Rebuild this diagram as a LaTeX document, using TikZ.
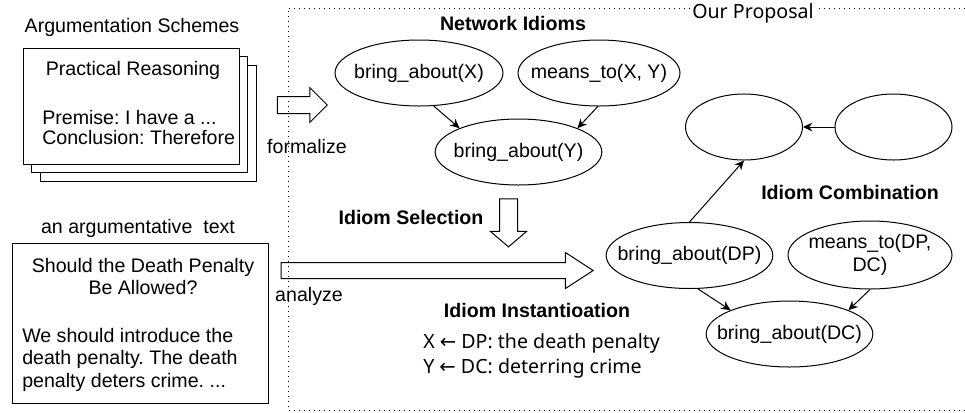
\documentclass[tikz,border=0pt]{standalone}
\usepackage{fontspec}
\setmainfont{Liberation Sans}
\newfontfamily\notosans{Noto Sans}
\newfontfamily\symfont{DejaVu Sans}
\usetikzlibrary{shapes.geometric,shapes.arrows,arrows.meta,positioning}
\frenchspacing

\begin{document}
\begin{tikzpicture}[
  x=0.75pt, y=-0.75pt,
  every node/.style={font=\fontsize{14.7}{17.25}\selectfont, inner sep=0pt},
  idiom/.style={draw, ellipse, line width=0.75pt, inner xsep=-20pt, minimum width=125pt, minimum height=49.5pt, align=center},
  empty idiom/.style={idiom, minimum width=87.75pt},
  title/.style={font=\fontsize{14.7}{17.25}\selectfont\bfseries},
  doc/.style={draw, fill=white, line width=0.75pt},
  blockarrow/.style={draw, single arrow, line width=0.75pt, text height=0pt, text depth=0pt,
    inner xsep=0pt, inner ysep=6pt, single arrow head extend=6.75pt, single arrow tip angle=90},
  frame/.style={line width=0.75pt, dash pattern=on 0.75pt off 3pt},
  arrow/.style={-{Stealth[length=7pt,width=6.5pt]}, line width=0.75pt}
]
  \useasboundingbox (0,0) rectangle (965,412);

  % dotted frame round the proposal
  \draw[frame] (965,8) -- (288,8) -- (288,410) -- (965,410);
  \node[fill=white, inner xsep=2pt, font=\notosans\fontsize{14.7}{17.25}\selectfont] (proposal) at (753,13) {Our Proposal};

  % argumentation schemes (stacked)
  \node (schemes) at (132,27) {Argumentation Schemes};
  \node[doc, minimum width=162pt, minimum height=87pt] (scheme3) at (148,123) {};
  \node[doc, minimum width=162pt, minimum height=87pt] (scheme2) at (139.5,114.5) {};
  \node[doc, minimum width=162pt, minimum height=87pt] (scheme) at (131,106) {};
  \node (prtitle) at (133,70) {Practical Reasoning};
  \node[align=left, anchor=west, font=\fontsize{14.7}{15}\selectfont] (prbody) at (42,127) {Premise: I have a ...\\Conclusion: Therefore};

  % the text to analyze
  \node (argtext) at (138,228) {an argumentative\ \ text};
  \node[doc, minimum width=192pt, minimum height=120pt] (essay) at (140,323) {};
  \node[align=center, font=\fontsize{14.7}{16.5}\selectfont] (question) at (143,276) {Should the Death Penalty\\Be Allowed?};
  \node[align=left, anchor=west, font=\fontsize{14.7}{16.9}\selectfont] (essaybody) at (22,359.5)
    {We should introduce the\\death penalty. The death\\penalty deters crime. ...};

  % block arrows
  \node[blockarrow, minimum height=37.5pt] (toformal) at (298,105) {};
  \node[blockarrow, minimum height=234pt, inner ysep=5.625pt, single arrow head extend=7.5pt,
    single arrow tip angle=66] (toanalyze) at (431,270.5) {};
  \node[blockarrow, rotate=-90, minimum height=36pt, inner ysep=6.375pt,
    single arrow tip angle=99] (toselect) at (508.5,219) {};
  \node (formalize) at (307,146) {formalize};
  \node (analyze) at (309,296) {analyze};

  % titles
  \node[title] (netidioms) at (513,23) {Network Idioms};
  \node[title] (selection) at (411,217) {Idiom Selection};
  \node[title] (instantiation) at (537,310) {Idiom Instantioation};
  \node[title] (combination) at (850,192) {Idiom Combination};

  % network idiom
  \node[idiom, minimum width=126pt] (bx) at (419,73) {bring\_about(X)};
  \node[idiom, minimum width=121.5pt] (mxy) at (599,73) {means\_to(X, Y)};
  \node[idiom] (by) at (518.5,152) {bring\_about(Y)};

  % instantiated idiom and its combination
  \node[empty idiom] (e1) at (744,127) {};
  \node[empty idiom] (e2) at (893.5,127) {};
  \node[idiom] (bdp) at (689.5,255.5) {bring\_about(DP)};
  \node[idiom, minimum width=123pt, minimum height=51pt] (mdpdc) at (870,255) {means\_to(DP,\\DC)};
  \node[idiom] (bdc) at (789.5,334) {bring\_about(DC)};

  \node[align=left, anchor=west, font=\notosans\fontsize{14.7}{18.75}\selectfont] (binding) at (423,355.5)
    {X {\symfont ←} DP: the death penalty\\Y {\symfont ←} DC: deterring crime};

  \foreach \i/\j in {bx.-66/by.158, mxy.-92/by.22, e2/e1, bdp.north/e1.south, bdp.-76/bdc.158, mdpdc.-90/bdc.22}
    \draw[arrow] (\i) -- (\j);
\end{tikzpicture}
\end{document}
